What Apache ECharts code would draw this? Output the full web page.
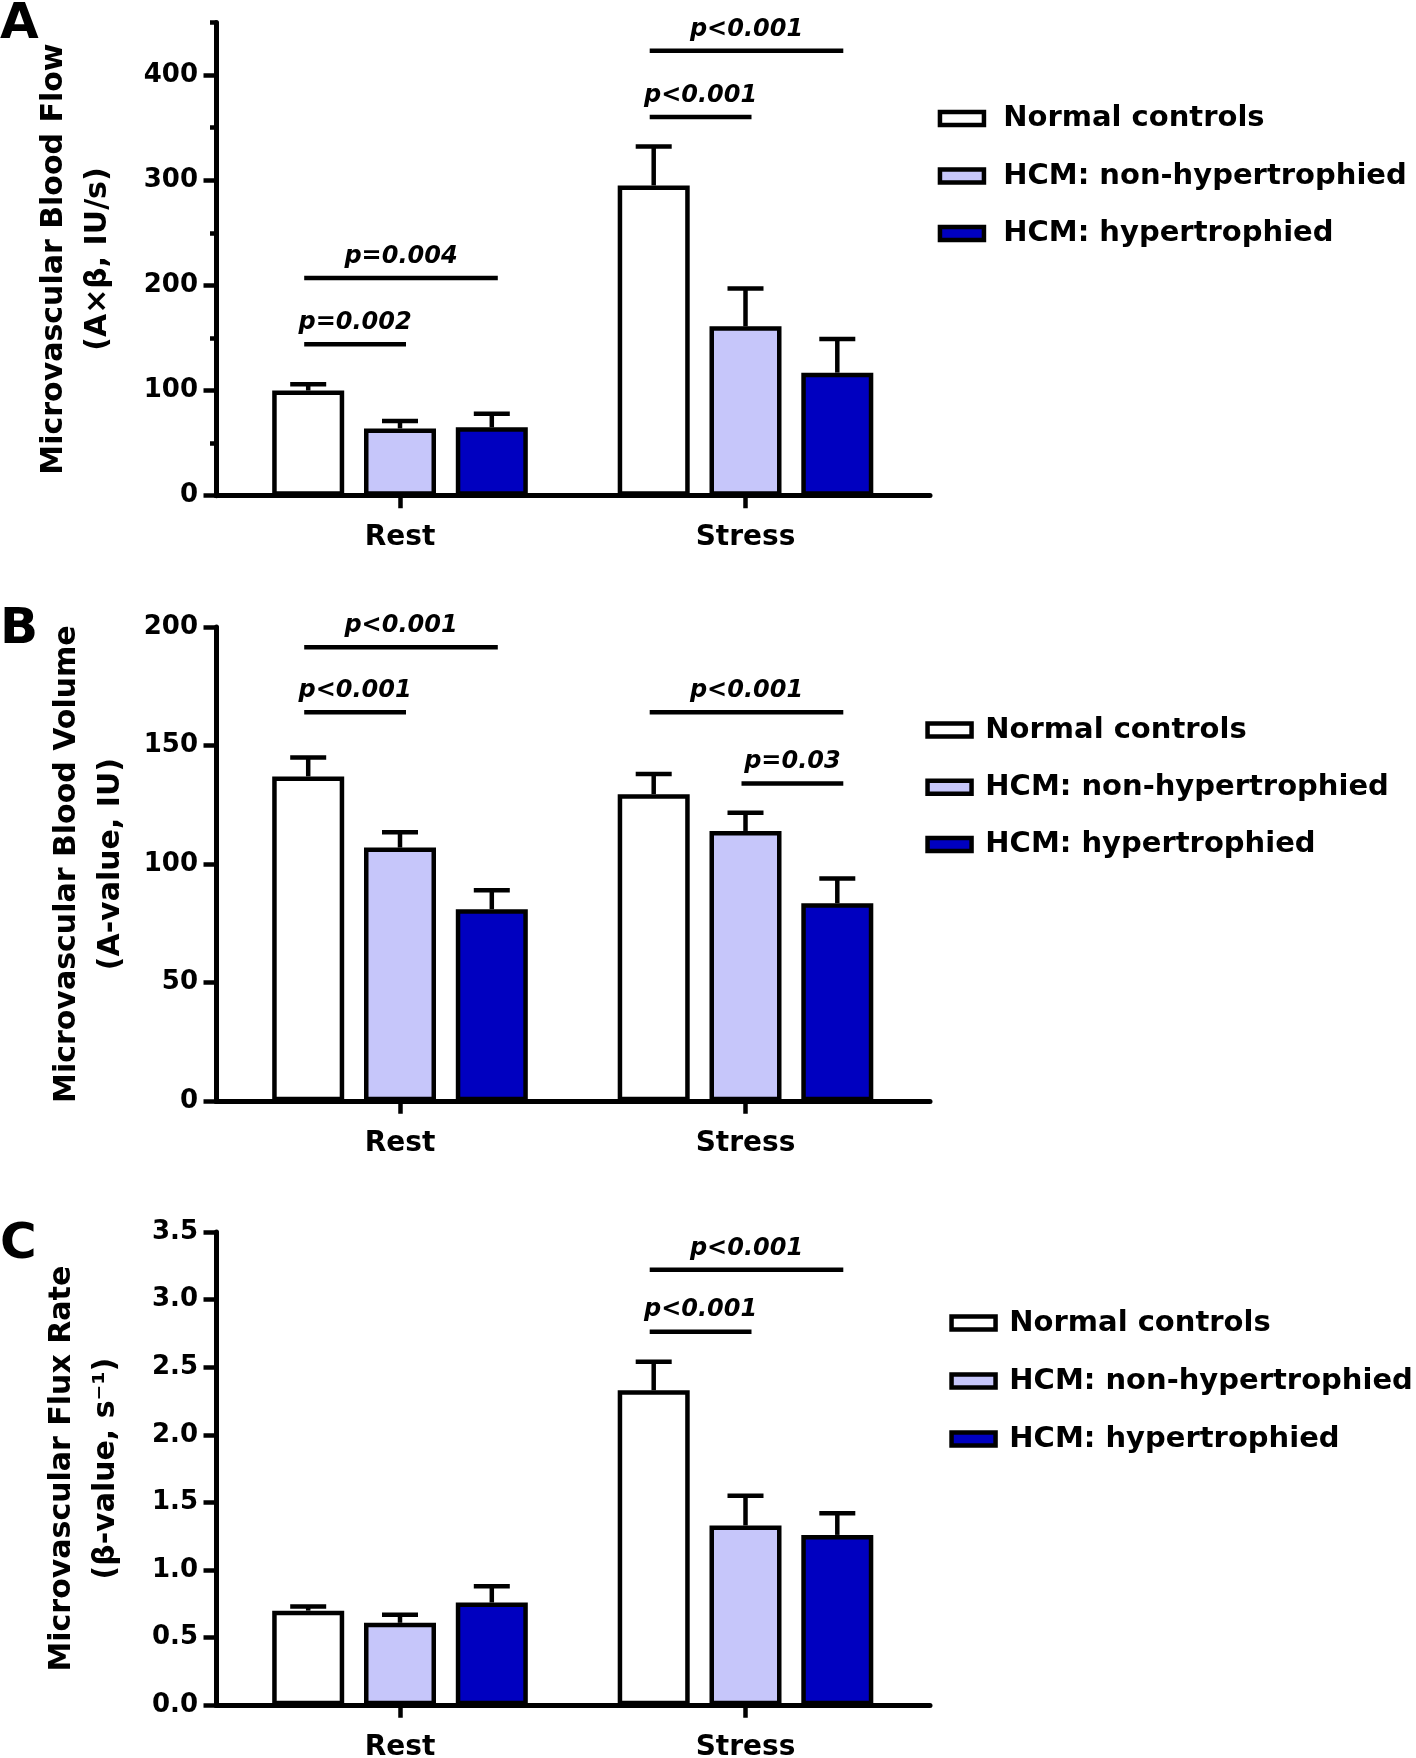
<!DOCTYPE html>
<html>
<head>
<meta charset="utf-8">
<script src="https://cdn.jsdelivr.net/npm/echarts@6/dist/echarts.min.js"></script>
<style>
html, body { margin: 0; padding: 0; background: #ffffff; }
#chart { width: 1416px; height: 1758px; }
</style>
</head>
<body>
<div id="chart"></div>
<script>
// ---------------- DATA ----------------
const categories = ['Rest', 'Stress'];
const groupNames = ['Normal controls', 'HCM: non-hypertrophied', 'HCM: hypertrophied'];

// Panel A: Microvascular Blood Flow (A×β, IU/s)
const flowNormal = [100, 295];
const flowNonHyp = [64, 161];
const flowHyp = [65, 117];
const flowNormalErr = [6, 37];
const flowNonHypErr = [7, 36];
const flowHypErr = [13, 32];
const flowTicks = [0, 100, 200, 300, 400];
const flowMinorTicks = [50, 150, 250, 350, 450];
// [category index, from group, to group, bracket level, label]
const flowSig = [
  [0, 0, 1, 144, 'p=0.002'],
  [0, 0, 2, 207, 'p=0.004'],
  [1, 0, 1, 360, 'p<0.001'],
  [1, 0, 2, 423, 'p<0.001']
];

// Panel B: Microvascular Blood Volume (A-value, IU)
const volNormal = [137, 129.5];
const volNonHyp = [107, 114];
const volHyp = [81, 83.5];
const volNormalErr = [8, 8.5];
const volNonHypErr = [6.4, 7.7];
const volHypErr = [8, 10.5];
const volTicks = [0, 50, 100, 150, 200];
const volSig = [
  [0, 0, 1, 164, 'p<0.001'],
  [0, 0, 2, 191.5, 'p<0.001'],
  [1, 0, 2, 164, 'p<0.001'],
  [1, 1, 2, 134, 'p=0.03']
];

// Panel C: Microvascular Flux Rate (β-value, s⁻¹)
const fluxNormal = [0.70, 2.33];
const fluxNonHyp = [0.61, 1.33];
const fluxHyp = [0.76, 1.26];
const fluxNormalErr = [0.03, 0.21];
const fluxNonHypErr = [0.06, 0.22];
const fluxHypErr = [0.12, 0.16];
const fluxTicks = [0, 0.5, 1.0, 1.5, 2.0, 2.5, 3.0, 3.5];
const fluxSig = [
  [1, 0, 1, 2.763, 'p<0.001'],
  [1, 0, 2, 3.22, 'p<0.001']
];

// ---------------- STYLE ----------------
const FONT = 'DejaVu Sans';
const groupColors = ['#FFFFFF', '#C6C6FA', '#0000C0'];
const BAR_W = 72;
const BAR_GAP = 0.275;
const STEP = BAR_W * (1 + BAR_GAP);
const CAP = 36;
const LW = 4.5;

const panels = [
  {
    letter: 'A', letterTop: 0,
    top: 22.4, height: 473.3,
    max: flowMinorTicks[flowMinorTicks.length - 1],
    ticks: flowTicks, minor: flowMinorTicks, fmt: v => String(v),
    name: 'Microvascular Blood Flow\n(A\u00D7\u03B2, IU/s)', nameGap: 95.5,
    means: [flowNormal, flowNonHyp, flowHyp],
    errs: [flowNormalErr, flowNonHypErr, flowHypErr],
    sig: flowSig,
    legend: { left: 937.7, top: 104, gap: 28.5, pad: 14.3 }
  },
  {
    letter: 'B', letterTop: 605,
    top: 627, height: 474.3,
    max: volTicks[volTicks.length - 1],
    ticks: volTicks, minor: null, fmt: v => String(v),
    name: 'Microvascular Blood Volume\n(A-value, IU)', nameGap: 79,
    means: [volNormal, volNonHyp, volHyp],
    errs: [volNormalErr, volNonHypErr, volHypErr],
    sig: volSig,
    legend: { left: 925.3, top: 715.5, gap: 28.3, pad: 8.8 }
  },
  {
    letter: 'C', letterTop: 1220,
    top: 1232, height: 473.3,
    max: fluxTicks[fluxTicks.length - 1],
    ticks: fluxTicks, minor: null, fmt: v => v.toFixed(1),
    name: 'Microvascular Flux Rate\n(\u03B2-value, s\u207B\u00B9)', nameGap: 87.5,
    means: [fluxNormal, fluxNonHyp, fluxHyp],
    errs: [fluxNormalErr, fluxNonHypErr, fluxHypErr],
    sig: fluxSig,
    legend: { left: 949.3, top: 1308.5, gap: 29, pad: 8.8 }
  }
];

// axis frame spans 216..930; the two category bands are centred at 400 and 745.5
const FRAME = { left: 216, width: 714 };
const BANDS = { left: 227.25, width: 691 };

// ---------------- BUILD OPTION ----------------
const option = {
  animation: false,
  backgroundColor: '#ffffff',
  title: [], grid: [], xAxis: [], yAxis: [], legend: [], series: []
};

const axisTextStyle = { color: '#000', fontWeight: 'bold', fontFamily: FONT };

panels.forEach((p, pi) => {
  option.title.push({
    text: p.letter, left: 0, top: p.letterTop, padding: 0,
    textStyle: { fontSize: 50, fontWeight: 'bold', fontFamily: FONT, color: '#000' }
  });

  // frame grid (axis lines, y ticks & labels, y title)
  const frameGrid = option.grid.length;
  option.grid.push({ left: FRAME.left, width: FRAME.width, top: p.top, height: p.height, outerBoundsMode: 'none', containLabel: false });
  // band grid (bars, category ticks & labels)
  const bandGrid = option.grid.length;
  option.grid.push({ left: BANDS.left, width: BANDS.width, top: p.top, height: p.height, outerBoundsMode: 'none', containLabel: false });

  option.xAxis.push({
    type: 'value', gridIndex: frameGrid, min: 0, max: 1,
    axisLine: { show: true, onZero: false, lineStyle: { color: '#000', width: 5 } },
    axisTick: { show: false }, axisLabel: { show: false }, splitLine: { show: false }
  });
  const xBand = option.xAxis.length;
  option.xAxis.push({
    type: 'category', gridIndex: bandGrid, data: categories,
    axisLine: { show: false },
    axisTick: { show: true, alignWithLabel: true, length: 12.5, lineStyle: { color: '#000', width: 4.5 } },
    axisLabel: Object.assign({ fontSize: 28, margin: 28 }, axisTextStyle),
    splitLine: { show: false }
  });

  option.yAxis.push({
    type: 'value', gridIndex: frameGrid, position: 'left', min: 0, max: p.max,
    interval: p.ticks[1] - p.ticks[0],
    name: p.name, nameLocation: 'middle', nameRotate: 90, nameGap: p.nameGap,
    nameTextStyle: Object.assign({ fontSize: 30, lineHeight: 44, align: 'center' }, axisTextStyle),
    axisLine: { show: true, lineStyle: { color: '#000', width: 5 } },
    axisTick: { show: true, length: 12.5, customValues: p.ticks, lineStyle: { color: '#000', width: 4.5 } },
    axisLabel: Object.assign({ fontSize: 26, margin: 18, customValues: p.ticks, formatter: p.fmt }, axisTextStyle),
    splitLine: { show: false }
  });
  if (p.minor) {
    option.yAxis.push({
      type: 'value', gridIndex: frameGrid, position: 'left', offset: 0, min: 0, max: p.max,
      interval: p.minor[1] - p.minor[0],
      axisLine: { show: false },
      axisTick: { show: true, length: 6, customValues: p.minor, lineStyle: { color: '#000', width: 4.5 } },
      axisLabel: { show: false }, splitLine: { show: false }
    });
  }
  const yBand = option.yAxis.length;
  option.yAxis.push({
    type: 'value', gridIndex: bandGrid, min: 0, max: p.max, show: false,
    splitLine: { show: false }
  });

  option.legend.push({
    data: groupNames, orient: 'vertical', left: p.legend.left, top: p.legend.top,
    padding: 0, itemGap: p.legend.gap, itemWidth: 44, itemHeight: 13, icon: 'rect',
    selectedMode: false,
    itemStyle: { borderColor: '#000', borderWidth: 4.5 },
    textStyle: { color: '#000', fontSize: 29, fontWeight: 'bold', fontFamily: FONT, lineHeight: 29,
      padding: [0, 0, 0, p.legend.pad] }
  });

  groupNames.forEach((g, gi) => {
    option.series.push({
      type: 'bar', name: g, xAxisIndex: xBand, yAxisIndex: yBand,
      data: p.means[gi], barWidth: BAR_W, barGap: (BAR_GAP * 100) + '%',
      itemStyle: { color: groupColors[gi], borderColor: '#000', borderWidth: LW },
      emphasis: { disabled: true }, z: 2
    });
  });

  // error bars (upper only)
  const errData = [];
  groupNames.forEach((g, gi) => {
    categories.forEach((c, ci) => {
      errData.push([ci, gi, p.means[gi][ci], p.errs[gi][ci]]);
    });
  });
  option.series.push({
    type: 'custom', xAxisIndex: xBand, yAxisIndex: yBand,
    data: errData, encode: { x: 0, y: 2 }, z: 3, silent: true,
    renderItem: (params, api) => {
      const ci = api.value(0), gi = api.value(1), m = api.value(2), e = api.value(3);
      const base = api.coord([ci, m]);
      const top = api.coord([ci, m + e]);
      const x = base[0] + (gi - 1) * STEP;
      return {
        type: 'group', children: [
          { type: 'line', shape: { x1: x, y1: base[1], x2: x, y2: top[1] }, style: { stroke: '#000', lineWidth: LW } },
          { type: 'line', shape: { x1: x - CAP / 2, y1: top[1], x2: x + CAP / 2, y2: top[1] }, style: { stroke: '#000', lineWidth: LW } }
        ]
      };
    }
  });

  // significance brackets
  const sig = p.sig;
  option.series.push({
    type: 'custom', xAxisIndex: xBand, yAxisIndex: yBand,
    data: sig.map(s => [s[0], s[1], s[2], s[3]]), encode: { x: 0, y: 3 }, z: 4, silent: true,
    renderItem: (params, api) => {
      const ci = api.value(0), a = api.value(1), b = api.value(2), lv = api.value(3);
      const c = api.coord([ci, lv]);
      const x1 = c[0] + (a - 1) * STEP - 4;
      const x2 = c[0] + (b - 1) * STEP + 6;
      return {
        type: 'group', children: [
          { type: 'line', shape: { x1: x1, y1: c[1], x2: x2, y2: c[1] }, style: { stroke: '#000', lineWidth: LW } },
          { type: 'text', style: { x: (x1 + x2) / 2, y: c[1] - 21.5, text: sig[params.dataIndex][4],
              align: 'center', verticalAlign: 'middle', fill: '#000',
              font: 'italic bold 24px "DejaVu Sans"' } }
        ]
      };
    }
  });
});

const chart = echarts.init(document.getElementById('chart'), null, { renderer: 'canvas' });
chart.setOption(option);
</script>
</body>
</html>
